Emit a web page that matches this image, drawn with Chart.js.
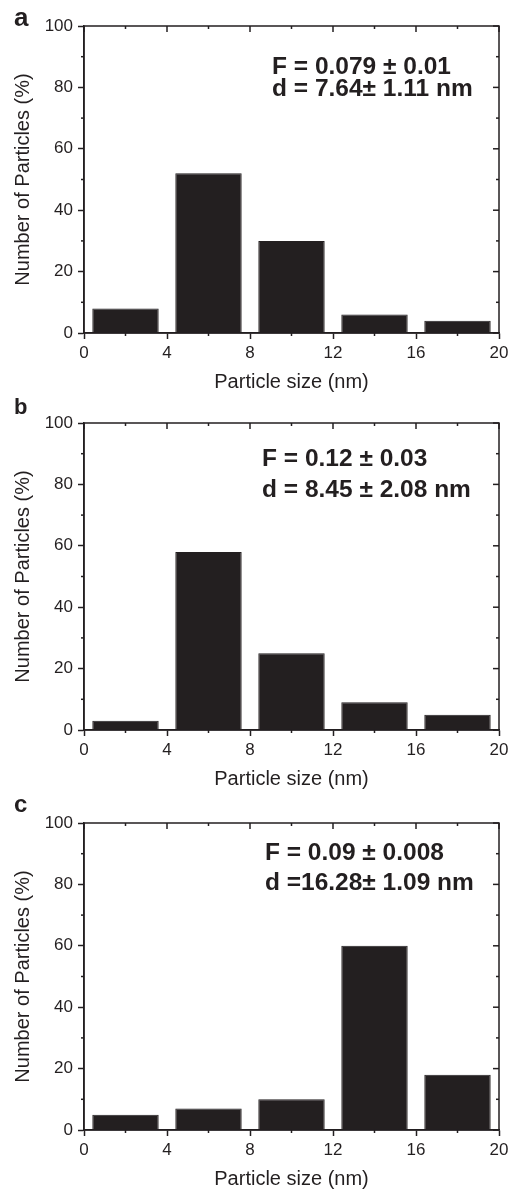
<!DOCTYPE html>
<html>
<head>
<meta charset="utf-8">
<script src="https://cdn.jsdelivr.net/npm/chart.js@4.4.1/dist/chart.umd.min.js"></script>
<style>
  html, body { margin: 0; padding: 0; background: #fff; overflow: hidden; }
  .panel { position: absolute; left: 0; width: 519px; height: 400px; }
  .panel canvas { display: block; }
</style>
</head>
<body>
<div class="panel" style="top:0px"><canvas id="chartA" width="519" height="400"></canvas></div>
<div class="panel" style="top:397px"><canvas id="chartB" width="519" height="400"></canvas></div>
<div class="panel" style="top:797px"><canvas id="chartC" width="519" height="400"></canvas></div>
<script>
// ===== data =====
const binCenters = [2, 6, 10, 14, 18];          // nm, bins of 4 nm
const percentA = [8, 52, 30, 6, 4];
const percentB = [3, 58, 25, 9, 5];
const percentC = [5, 7, 10, 60, 18];

const xTicks = [0, 4, 8, 12, 16, 20];
const xMinor = [2, 6, 10, 14, 18];
const yTicks = [0, 20, 40, 60, 80, 100];
const yMinor = [10, 30, 50, 70, 90];

const notesA = ["F = 0.079 \u00b1 0.01", "d = 7.64\u00b1 1.11 nm"];
const notesB = ["F = 0.12 \u00b1 0.03", "d = 8.45 \u00b1 2.08 nm"];
const notesC = ["F = 0.09 \u00b1 0.008", "d =16.28\u00b1 1.09 nm"];

// ===== style =====
const ink = "#231f20";
const font = "'Liberation Sans', Arial, Helvetica, sans-serif";

// frame, minor ticks, mirrored ticks, panel letter and notes
const framePlugin = {
  id: "frame",
  afterDraw(chart, args, opts) {
    const { ctx, chartArea: a, scales: { x, y } } = chart;
    ctx.save();
    ctx.strokeStyle = ink;
    ctx.lineWidth = 1.5;
    ctx.strokeRect(a.left, a.top, a.right - a.left, a.bottom - a.top);

    const seg = (x1, y1, x2, y2) => {
      ctx.beginPath(); ctx.moveTo(x1, y1); ctx.lineTo(x2, y2); ctx.stroke();
    };
    xTicks.forEach(v => {
      const px = x.getPixelForValue(v);
      seg(px, a.top, px, a.top + 6);
    });
    xMinor.forEach(v => {
      const px = x.getPixelForValue(v);
      seg(px, a.bottom, px, a.bottom + 3);
      seg(px, a.top, px, a.top + 3);
    });
    yTicks.forEach(v => {
      const py = y.getPixelForValue(v);
      seg(a.right, py, a.right - 6, py);
    });
    yMinor.forEach(v => {
      const py = y.getPixelForValue(v);
      seg(a.left, py, a.left - 3, py);
      seg(a.right, py, a.right - 3, py);
    });

    // panel letter
    ctx.fillStyle = ink;
    ctx.textAlign = "left";
    ctx.textBaseline = "alphabetic";
    ctx.font = "bold " + opts.letterSize + "px " + font;
    ctx.fillText(opts.letter, 14, opts.letterY);

    // notes
    ctx.font = "bold 24.5px " + font;
    opts.notes.forEach((t, i) => {
      ctx.fillText(t, x.getPixelForValue(opts.noteX), y.getPixelForValue(opts.noteY[i]));
    });
    ctx.restore();
  }
};

function makeChart(id, values, notes, letter, letterSize, letterY, noteX, noteY) {
  return new Chart(document.getElementById(id), {
    type: "bar",
    data: {
      datasets: [{
        data: binCenters.map((c, i) => ({ x: c, y: values[i] })),
        backgroundColor: ink,
        borderColor: ink,
        borderWidth: 1,
        barPercentage: 1,
        categoryPercentage: 0.8
      }]
    },
    options: {
      responsive: false,
      animation: false,
      layout: { padding: { top: 26, right: 20, left: 0, bottom: 0 } },
      plugins: {
        legend: { display: false },
        tooltip: { enabled: false },
        frame: { letter, letterSize, letterY, notes, noteX, noteY }
      },
      scales: {
        x: {
          type: "linear",
          min: 0, max: 20,
          offset: false,
          afterFit: s => { s.height = 67; },
          grid: { offset: false, drawOnChartArea: false, tickLength: 6, color: ink, tickWidth: 1.5 },
          border: { color: ink, width: 1.5 },
          ticks: { stepSize: 4, color: ink, padding: 4, font: { family: font, size: 17 }, maxRotation: 0 },
          title: { display: true, text: "Particle size (nm)", color: ink,
                   font: { family: font, size: 20 }, padding: { top: 0, bottom: 6 } }
        },
        y: {
          min: 0, max: 100,
          afterFit: s => { s.width = 84; },
          grid: { drawOnChartArea: false, tickLength: 6, color: ink, tickWidth: 1.5 },
          border: { color: ink, width: 1.5 },
          ticks: { stepSize: 20, color: ink, padding: 5, font: { family: font, size: 17 } },
          title: { display: true, text: "Number of Particles (%)", color: ink,
                   font: { family: font, size: 20 }, padding: { top: 11, bottom: 0 } }
        }
      }
    },
    plugins: [framePlugin]
  });
}

makeChart("chartA", percentA, notesA, "a", 26, 26, 9.06, [84.4, 77.2]);
makeChart("chartB", percentB, notesB, "b", 22, 17, 8.58, [86, 75.9]);
makeChart("chartC", percentC, notesC, "c", 24, 15, 8.72, [87.9, 78.2]);
</script>
</body>
</html>
